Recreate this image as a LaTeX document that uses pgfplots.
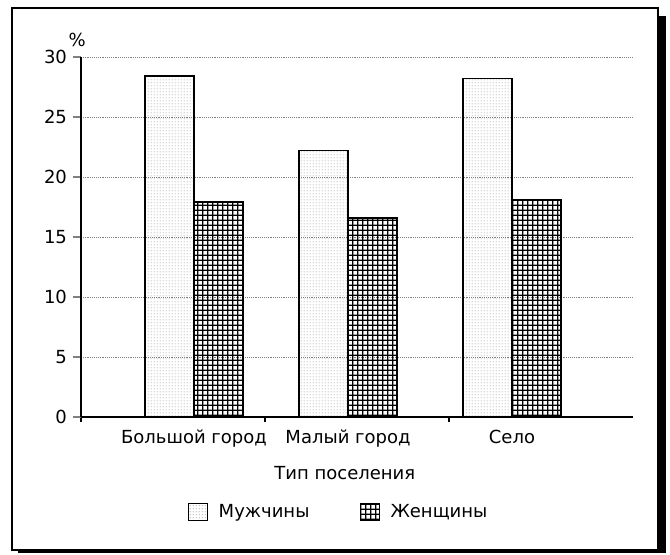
\documentclass[border=0pt]{standalone}
\usepackage{fontspec}
\setmainfont{DejaVu Sans}
\usepackage{pgfplots}
\pgfplotsset{compat=1.18}
\usetikzlibrary{patterns.meta}
\tikzdeclarepattern{name=finedots, type=uncolored,
  bounding box={(0,0) and (2.25pt,2.25pt)}, tile size={(2.25pt,2.25pt)},
  code={\fill (1.1pt,1.1pt) circle (0.45pt);}}
\tikzdeclarepattern{name=mygrid, type=uncolored,
  bounding box={(0,0) and (3.7pt,3.7pt)}, tile size={(3.7pt,3.7pt)},
  code={\fill (0,0) rectangle (3.7pt,1.1pt); \fill (0,0) rectangle (1.1pt,3.7pt);}}
\newcommand\fs{\fontsize{13.5}{15}\selectfont}
\begin{document}
\begin{tikzpicture}
\begin{axis}[
  scale only axis, width=414pt, height=270pt,
  ybar=0pt, bar width=49,
  xmin=81, xmax=633, ymin=0, ymax=30,
  xtick={194,348,512},
  xticklabels={Большой город, Малый город, Село},
  minor xtick={81,265,449},
  ytick={0,5,10,15,20,25,30},
  axis x line*=bottom, axis y line*=left,
  axis line style={line width=0.9pt},
  major x tick style={draw=none},
  minor x tick style={draw=black, line width=0.9pt},
  ytick style={line width=0.9pt},
  tick align=outside, major tick length=6pt, minor tick length=4pt,
  ymajorgrids, grid style={densely dotted, gray, line width=0.5pt},
  /pgf/number format/assume math mode=true,
  tick label style={font=\fs},
  yticklabel style={xshift=-1pt},
  xticklabel style={yshift=0pt},
  xlabel={Тип поселения},
  xlabel style={font=\fs, at={(axis description cs:0.478,-0.155)}, anchor=center},
  legend columns=2,
  legend style={at={(axis description cs:0.194,-0.264)}, anchor=west, draw=none, inner sep=0pt,
    font=\fs, /tikz/every even column/.append style={column sep=36pt},
    /tikz/every odd column/.append style={column sep=6pt}},
  legend image code/.code={\draw[#1, line width=0.8pt] (0pt,-6.5pt) rectangle (14pt,6.5pt);},
  clip=false,
]
\addplot[draw=black, line width=1.3pt, pattern=finedots, pattern color=black!60]
  coordinates {(194,28.4) (348,22.2) (512,28.2)};
\addplot[draw=black, line width=1.3pt, pattern=mygrid, pattern color=black]
  coordinates {(194,17.9) (348,16.6) (512,18.1)};
\legend{Мужчины, Женщины}
\node[font=\fs] at (axis description cs:-0.007,1.047) {\%};
% outer frame with shadow (pixel-based: x=(px-81)/552, y=(417-py)/360)
\fill[black] (axis description cs:1.0453,1.1139) rectangle (axis description cs:1.0598,-0.3778);
\fill[black] (axis description cs:-0.1141,-0.3694) rectangle (axis description cs:1.0598,-0.3778);
\draw[line width=1.2pt] (axis description cs:-0.125,1.136) rectangle (axis description cs:1.0453,-0.3694);
\path (axis description cs:-0.1467,1.1583) (axis description cs:1.067,-0.3806);
\end{axis}
\end{tikzpicture}
\end{document}
